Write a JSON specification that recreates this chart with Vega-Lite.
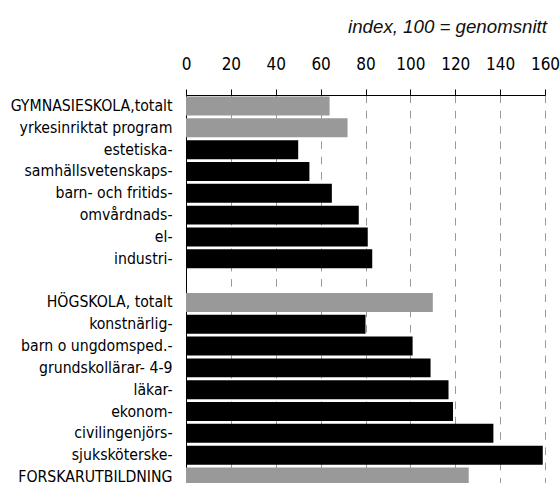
{
  "$schema": "https://vega.github.io/schema/vega-lite/v6.json",
  "autosize": "none",
  "padding": {"left": 186, "top": 95, "right": 15, "bottom": 0},
  "width": 359,
  "height": 393,
  "background": "white",
  "title": {
    "text": "index, 100 = genomsnitt",
    "anchor": "end",
    "frame": "group",
    "font": "Liberation Sans",
    "fontSize": 18.7,
    "fontStyle": "italic",
    "fontWeight": "normal",
    "color": "#111111",
    "baseline": "alphabetic",
    "offset": 3.5,
    "dx": 2
  },
  "data": {
    "values": [
      {"label": "GYMNASIESKOLA,totalt", "value": 64, "kind": "total"},
      {"label": "yrkesinriktat program", "value": 72, "kind": "total"},
      {"label": "estetiska-", "value": 50, "kind": "sub"},
      {"label": "samhällsvetenskaps-", "value": 55, "kind": "sub"},
      {"label": "barn- och fritids-", "value": 65, "kind": "sub"},
      {"label": "omvårdnads-", "value": 77, "kind": "sub"},
      {"label": "el-", "value": 81, "kind": "sub"},
      {"label": "industri-", "value": 83, "kind": "sub"},
      {"label": "HÖGSKOLA, totalt", "value": 110, "kind": "total"},
      {"label": "konstnärlig-", "value": 80, "kind": "sub"},
      {"label": "barn o ungdomsped.-", "value": 101, "kind": "sub"},
      {"label": "grundskollärar- 4-9", "value": 109, "kind": "sub"},
      {"label": "läkar-", "value": 117, "kind": "sub"},
      {"label": "ekonom-", "value": 119, "kind": "sub"},
      {"label": "civilingenjörs-", "value": 137, "kind": "sub"},
      {"label": "sjuksköterske-", "value": 159, "kind": "sub"},
      {"label": "FORSKARUTBILDNING", "value": 126, "kind": "total"}
    ]
  },
  "mark": {"type": "bar"},
  "encoding": {
    "y": {
      "field": "label",
      "type": "nominal",
      "scale": {
        "domain": ["GYMNASIESKOLA,totalt", "yrkesinriktat program", "estetiska-", "samhällsvetenskaps-", "barn- och fritids-", "omvårdnads-", "el-", "industri-", " ", "HÖGSKOLA, totalt", "konstnärlig-", "barn o ungdomsped.-", "grundskollärar- 4-9", "läkar-", "ekonom-", "civilingenjörs-", "sjuksköterske-", "FORSKARUTBILDNING"],
        "paddingInner": 0.13,
        "paddingOuter": 0.07
      },
      "axis": {
        "title": null,
        "domain": true,
        "domainColor": "#000000",
        "domainWidth": 1,
        "ticks": false,
        "labelPadding": 14,
        "labelFont": "DejaVu Sans Condensed",
        "labelFontSize": 15.7,
        "labelColor": "#000000",
        "labelLimit": 0,
        "grid": false
      }
    },
    "x": {
      "field": "value",
      "type": "quantitative",
      "scale": {"domain": [0, 160], "nice": false},
      "axis": {
        "orient": "top",
        "title": null,
        "values": [0, 20, 40, 60, 80, 100, 120, 140, 160],
        "domainColor": "#000000",
        "domainWidth": 1.2,
        "tickColor": "#000000",
        "tickSize": 6,
        "labelFont": "DejaVu Sans Condensed",
        "labelFontSize": 17,
        "labelColor": "#000000",
        "labelPadding": 16,
        "labelFlush": false,
        "grid": true,
        "gridColor": "#999999",
        "gridDash": [7.6, 7.7],
        "gridWidth": 1
      }
    },
    "color": {
      "field": "kind",
      "type": "nominal",
      "scale": {"domain": ["total", "sub"], "range": ["#999999", "#000000"]},
      "legend": null
    }
  },
  "config": {
    "view": {"stroke": null}
  }
}
